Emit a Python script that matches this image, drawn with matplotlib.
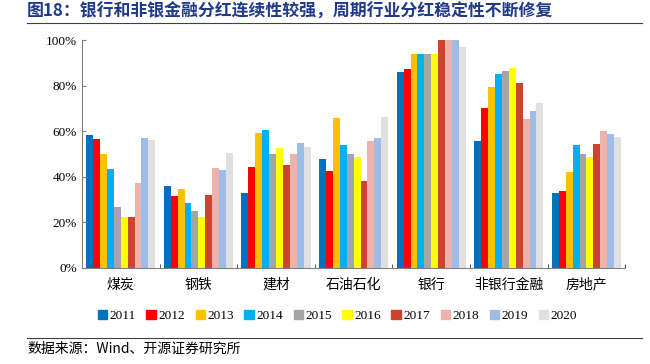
import numpy as np
import matplotlib.pyplot as plt
from matplotlib.patches import Patch

plt.rcParams['font.family'] = ['Liberation Serif', 'Noto Sans CJK SC', 'DejaVu Sans']

categories = ["煤炭", "钢铁", "建材", "石油石化", "银行", "非银行金融", "房地产"]
years = ["2011", "2012", "2013", "2014", "2015", "2016", "2017", "2018", "2019", "2020"]

# payout ratio (%) by year, one list per industry in category order
coal = [58.3, 56.4, 50.1, 43.4, 26.6, 22.4, 22.4, 37.3, 57.2, 56.0]
steel = [35.9, 31.7, 34.6, 28.3, 25.1, 22.5, 31.9, 43.7, 42.8, 50.3]
building = [32.8, 44.2, 59.1, 60.4, 50.1, 52.6, 45.1, 50.0, 55.0, 53.1]
petro = [47.7, 42.4, 65.9, 53.9, 50.0, 48.6, 38.0, 55.9, 57.1, 66.2]
bank = [85.8, 87.5, 93.8, 93.8, 93.8, 93.8, 100.0, 100.0, 100.0, 96.9]
nonbank = [55.7, 70.0, 79.2, 85.3, 86.3, 87.6, 81.1, 65.4, 68.9, 72.5]
realestate = [32.7, 33.7, 41.9, 53.9, 49.8, 48.6, 54.2, 60.0, 58.7, 57.3]

data = np.array([coal, steel, building, petro, bank, nonbank, realestate]) / 100.0

colors = ["#0070C0", "#FF0000", "#FFC000", "#00B0F0", "#A5A5A5",
          "#FFFF00", "#CC4330", "#EDB3AA", "#9DBDE6", "#E0E0E0"]

fig = plt.figure(figsize=(6.5, 3.64), dpi=100)
ax = fig.add_axes([0.126, 0.264, 0.836, 0.626])

n = len(years)
w = 0.089
x = np.arange(len(categories))
for j in range(n):
    ax.bar(x - (n - 1) / 2 * w + j * w, data[:, j], width=w, color=colors[j], linewidth=0)

ax.set_xlim(-0.5, len(categories) - 0.5)
ax.set_ylim(0, 1.0)
ax.set_yticks(np.arange(0, 1.01, 0.2))
ax.set_yticklabels([f"{int(round(v * 100))}%" for v in np.arange(0, 1.01, 0.2)], fontsize=9.5)
ax.set_xticks(x)
ax.set_xticklabels(categories, fontsize=10, family=['Noto Sans CJK SC'])
ax.set_xticks(np.arange(-0.5, len(categories)), minor=True)
ax.tick_params(axis='x', which='major', length=0, pad=7)
ax.tick_params(axis='x', which='minor', length=3, direction='in', color='#404040')
ax.tick_params(axis='y', length=3, direction='in', color='#808080')
for s in ['top', 'right']:
    ax.spines[s].set_visible(False)
ax.spines['left'].set_color('#808080')
ax.spines['bottom'].set_color('#808080')

handles = [Patch(color=c, label=y) for c, y in zip(colors, years)]
fig.legend(handles=handles, loc='center', bbox_to_anchor=(0.519, 0.132), ncol=10,
           frameon=False, fontsize=9.5, handlelength=0.7, handleheight=0.7,
           handletextpad=0.2, columnspacing=0.8)

fig.text(0.0415, 0.967, "图18：银行和非银金融分红连续性较强，周期行业分红稳定性不断修复",
         fontsize=12.2, fontweight='bold', color='#1F3A8A', va='center',
         family=['Noto Sans CJK SC'])
fig.add_artist(plt.Line2D([0.0415, 0.988], [0.937, 0.937], color='#404040', linewidth=0.8))
fig.add_artist(plt.Line2D([0.0415, 0.988], [0.0714, 0.0714], color='#404040', linewidth=0.8))
fig.text(0.0415, 0.041, "数据来源：Wind、开源证券研究所", fontsize=10, va='center',
         family=['Noto Sans CJK SC', 'Liberation Serif'])

fig.savefig("out.png", dpi=100)
